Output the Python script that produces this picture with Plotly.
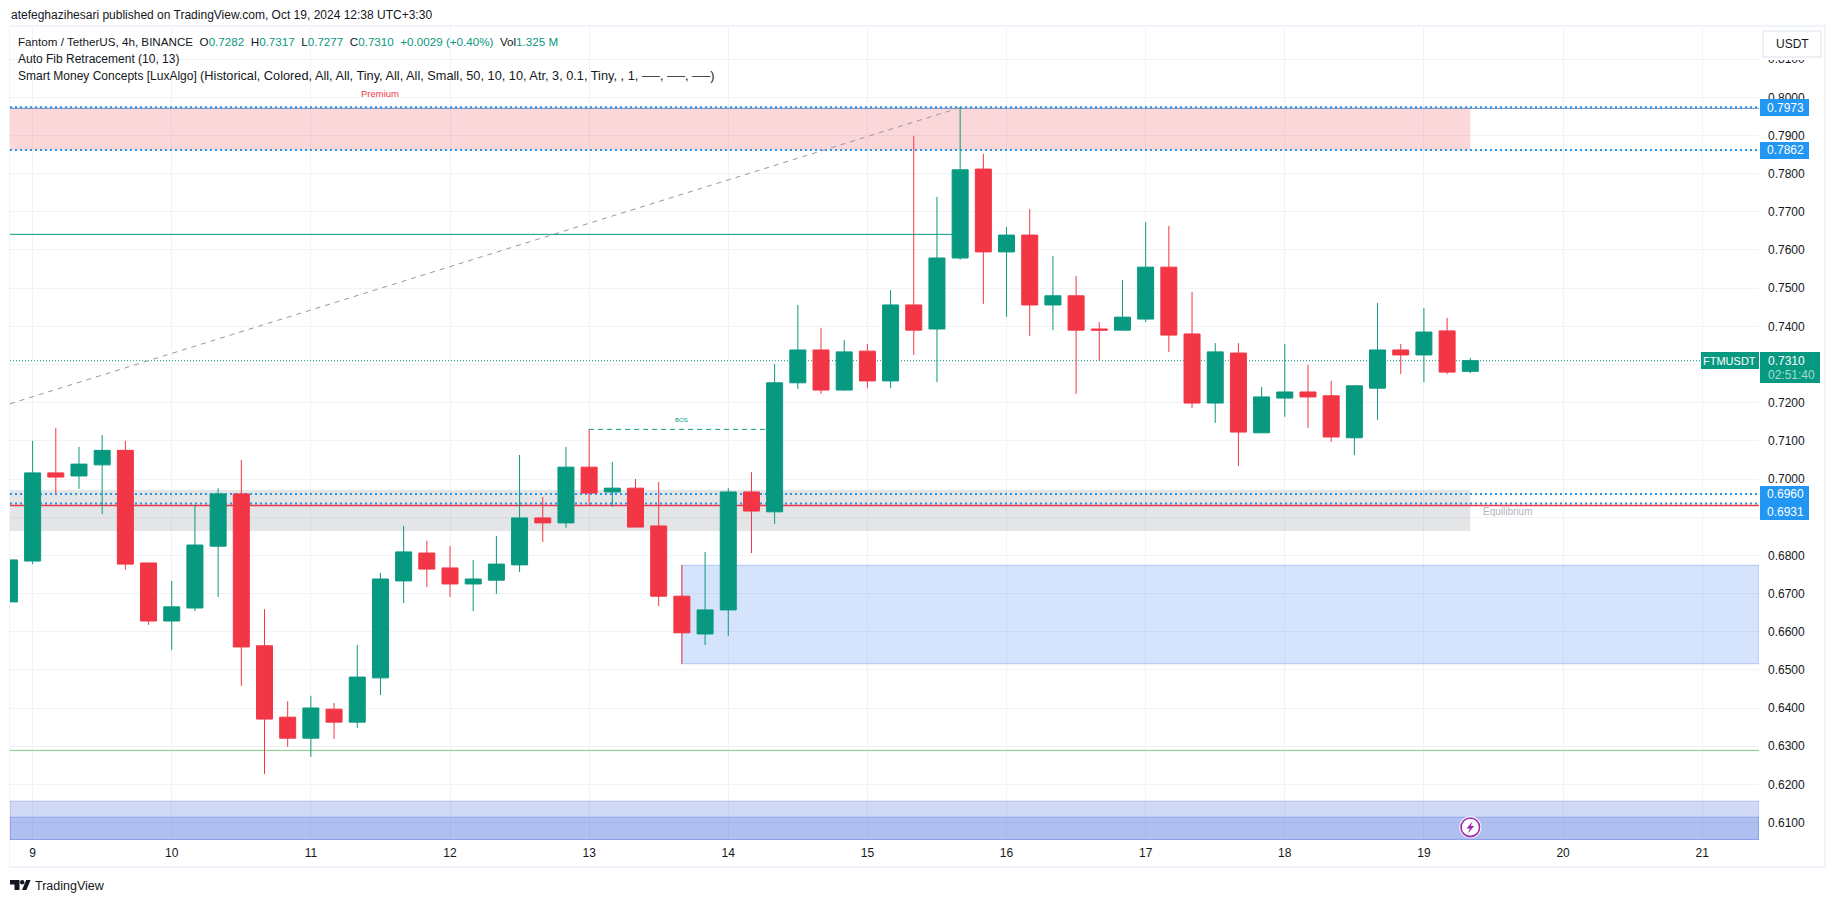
import plotly.graph_objects as go

W, H = 1835, 903
PLOT_L, PLOT_R, PLOT_T, PLOT_B = 10, 1759, 27, 840
FONT = "Liberation Sans"
INK = "#131722"
GREEN = "#089981"
RED = "#F23645"
BLUE = "#2196F3"

# ---------- candles (4h bars, index 0 is the first bar of the 9th) ----------
idx = list(range(-1, 63))
opens = [.6678, .6785, .7016, .7008, .7037, .7075, .6780, .6628, .6662, .6824,
         .6961, .6563, .6376, .6321, .6397, .6363, .6479, .6733, .6806, .6767,
         .6725, .6735, .6775, .6898, .6885, .7031, .6966, .6976, .6877, .6693,
         .6594, .6657, .6966, .6914, .7252, .7338, .7233, .7335, .7257, .7456,
         .7393, .7579, .7812, .7595, .7639, .7456, .7480, .7393, .7390, .7419,
         .7555, .7380, .7199, .7330, .7121, .7212, .7228, .7218, .7108, .7238,
         .7338, .7325, .7388, .7282]
closes = [.6788, .7016, .7005, .7039, .7075, .6777, .6628, .6665, .6827, .6961,
          .6560, .6371, .6321, .6400, .6363, .6481, .6738, .6809, .6764, .6725,
          .6738, .6777, .6898, .6885, .7031, .6963, .6976, .6874, .6693, .6597,
          .6657, .6966, .6916, .7252, .7338, .7233, .7333, .7257, .7456, .7390,
          .7579, .7810, .7595, .7639, .7456, .7480, .7390, .7390, .7424, .7555,
          .7377, .7199, .7333, .7123, .7215, .7228, .7215, .7110, .7244, .7338,
          .7325, .7385, .7280, .7310]
highs = [.6788, .7100, .7134, .7084, .7115, .7100, .6780, .6733, .6932, .6976,
         .7050, .6659, .6418, .6432, .6413, .6565, .6754, .6877, .6838, .6824,
         .6788, .6851, .7063, .6953, .7084, .7131, .7045, .7000, .6992, .6775,
         .6809, .6976, .7018, .7301, .7456, .7396, .7364, .7354, .7495, .7899,
         .7739, .7974, .7852, .7660, .7707, .7584, .7532, .7411, .7521, .7673,
         .7663, .7490, .7356, .7356, .7241, .7354, .7299, .7257, .7246, .7461,
         .7354, .7448, .7422, .7317]
lows = [.6678, .6777, .6961, .6974, .6908, .6762, .6618, .6552, .6654, .6691,
        .6458, .6227, .6298, .6272, .6319, .6348, .6434, .6675, .6717, .6691,
        .6654, .6699, .6756, .6835, .6872, .6932, .6927, .6874, .6667, .6515,
        .6565, .6589, .6806, .6882, .7236, .7223, .7231, .7238, .7238, .7325,
        .7254, .7574, .7459, .7425, .7375, .7390, .7223, .7310, .7390, .7411,
        .7333, .7186, .7147, .7034, .7121, .7163, .7134, .7097, .7063, .7155,
        .7275, .7254, .7275, .7277]

# ---------- axes ----------
day_bars = [0, 6, 12, 18, 24, 30, 36, 42, 48, 54, 60, 66, 72]
day_labels = ["9", "10", "11", "12", "13", "14", "15", "16", "17", "18", "19", "20", "21"]
price_ticks = [.61, .62, .63, .64, .65, .66, .67, .68, .69, .70, .71,
               .72, .73, .74, .75, .76, .77, .78, .79, .80, .81]
price_labels = ["0.6100", "0.6200", "0.6300", "0.6400", "0.6500", "0.6600", "0.6700", "0.6800",
                "", "0.7000", "0.7100", "0.7200", "", "0.7400", "0.7500", "0.7600", "0.7700",
                "0.7800", "0.7900", "0.8000", "0.8100"]
X_RANGE = [-0.975, 74.45]
Y_RANGE = [.60542, .81842]

# ---------- zones and levels (bar index, price) ----------
premium_zone = (-0.975, 62, .7862, .7973)
equilibrium_zone = (-0.975, 62, .6864, .6971)
demand_zone = (28, 74.45, .6516, .6774)
lower_zone_a = (-0.975, 74.45, .60542, .6156)
lower_zone_b = (-0.975, 74.45, .60542, .6114)
dotted_levels = [.7974, .7862, .6961, .6936]
top_solid_level = .7971
swing_high_level = (-0.975, 40, .7641)
swing_low_level = .6289
equilibrium_level = .69305
last_price = .7310
fib_line = (-0.975, .7197, 40, .7973)
bos_line = (24, 32, .7130)
bos_label = (28.0, .7155)


def px(x):
    return x / W


def py(y):
    return 1 - y / H


fig = go.Figure(go.Candlestick(
    x=idx, open=opens, high=highs, low=lows, close=closes,
    increasing=dict(line=dict(color=GREEN, width=1), fillcolor=GREEN),
    decreasing=dict(line=dict(color=RED, width=1), fillcolor=RED),
    whiskerwidth=0, hoverinfo="skip", showlegend=False,
))

shapes = []
LOW = "between"


def zone(z, fill, border):
    shapes.append(dict(type="rect", xref="x", yref="y", x0=z[0], x1=z[1], y0=z[2], y1=z[3],
                       fillcolor=fill, line=dict(color=border, width=1), layer=LOW))


def hline(x0, x1, y, color, width=1, dash="solid"):
    shapes.append(dict(type="line", xref="x", yref="y", x0=x0, x1=x1, y0=y, y1=y,
                       line=dict(color=color, width=width, dash=dash), layer=LOW))


NONE = "rgba(0,0,0,0)"
zone(premium_zone, "rgba(242,54,69,0.2)", NONE)
zone(equilibrium_zone, "rgba(120,123,134,0.2)", NONE)
zone(demand_zone, "rgba(45,115,240,0.2)", "rgba(70,110,220,0.3)")
zone(lower_zone_a, "rgba(59,97,213,0.24)", "rgba(60,90,215,0.3)")
zone(lower_zone_b, "rgba(59,105,225,0.22)", "rgba(60,90,215,0.3)")

hline(X_RANGE[0], X_RANGE[1], top_solid_level, "#7489c4", 1)
hline(swing_high_level[0], swing_high_level[1], swing_high_level[2], GREEN, 1)
hline(X_RANGE[0], X_RANGE[1], swing_low_level, "#7BCF85", 1)
hline(X_RANGE[0], X_RANGE[1], last_price, GREEN, 1, "1px,2px")
for lv in dotted_levels:
    hline(X_RANGE[0], X_RANGE[1], lv, BLUE, 2, "2px,3px")
hline(X_RANGE[0], X_RANGE[1], equilibrium_level, RED, 1.3)
shapes.append(dict(type="line", xref="x", yref="y", x0=fib_line[0], y0=fib_line[1],
                   x1=fib_line[2], y1=fib_line[3],
                   line=dict(color="#9598A1", width=1, dash="5px,5px"), layer=LOW))
hline(bos_line[0], bos_line[1], bos_line[2], GREEN, 1, "5px,4px")


def prect(x0, y0, x1, y1, fill, line=NONE, width=0):
    shapes.append(dict(type="rect", xref="paper", yref="paper", x0=px(x0), x1=px(x1),
                       y0=py(y0), y1=py(y1), fillcolor=fill,
                       line=dict(color=line, width=width), layer="above"))


# mask behind the USDT button (clips the top tick label as in the reference)
prect(1760, 27, 1824, 60, "#FFFFFF")

# outer frame
FRAME = "#F0F3FA"
prect(9, 25, 1826, 27, FRAME)
prect(9, 866, 1826, 868, FRAME)
prect(9, 25, 10, 868, FRAME)
prect(1824, 25, 1826, 868, FRAME)

# price and symbol labels
prect(1760, 99, 1809, 116, BLUE)
prect(1760, 142, 1809, 159, BLUE)
prect(1760, 486, 1809, 520, BLUE)
prect(1701, 352, 1759, 369, GREEN)
prect(1760, 352, 1820, 383, GREEN)

# USDT button
prect(1763, 31, 1821, 57, "#FFFFFF", "#E8EBF2", 1.5)


def pth(points, fill):
    d = "M" + " L".join(f"{px(a):.5f},{py(b):.5f}" for a, b in points) + " Z"
    shapes.append(dict(type="path", xref="paper", yref="paper", path=d,
                       fillcolor=fill, line=dict(color=fill, width=0), layer="above"))


# TradingView mark
pth([(10, 880), (19.5, 880), (19.5, 890), (14.5, 890), (14.5, 884.5), (10, 884.5)], INK)
shapes.append(dict(type="circle", xref="paper", yref="paper", x0=px(20), x1=px(24.4),
                   y0=py(880), y1=py(884.4), fillcolor=INK, line=dict(width=0), layer="above"))
pth([(26.2, 880), (30.6, 880), (26.4, 890), (22, 890)], INK)

# lightning badge
shapes.append(dict(type="circle", xref="paper", yref="paper", x0=px(1459.3), x1=px(1481.3),
                   y0=py(816.3), y1=py(838.3), fillcolor="#FFFFFF", line=dict(width=0), layer="above"))
shapes.append(dict(type="circle", xref="paper", yref="paper", x0=px(1461), x1=px(1479.6),
                   y0=py(818), y1=py(836.6), fillcolor="#FFFFFF",
                   line=dict(color="#9C27B0", width=1.6), layer="above"))
pth([(1472.5, 821.5), (1466.5, 828.5), (1469.8, 828.5), (1468, 833.2), (1474.2, 826), (1470.8, 826)], "#9C27B0")

ann = []


def label(x, y, text, size=12, color=INK, anchor="left"):
    ann.append(dict(xref="paper", yref="paper", x=px(x), y=py(y), text=text, showarrow=False,
                    xanchor=anchor, yanchor="middle", align="left",
                    font=dict(family=FONT, size=size, color=color)))


def g(s):
    return f'<span style="color:{GREEN}">{s}</span>'


label(9, 15, "atefeghazihesari published on TradingView.com, Oct 19, 2024 12:38 UTC+3:30", 12)
label(16, 42, "Fantom / TetherUS, 4h, BINANCE  O" + g("0.7282") + "  H" + g("0.7317") + "  L" + g("0.7277")
      + "  C" + g("0.7310") + "  " + g("+0.0029 (+0.40%)") + "  Vol" + g("1.325 M"), 11.65)
label(16, 59, "Auto Fib Retracement (10, 13)", 12)
label(16, 76, 'Smart Money Concepts [LuxAlgo] <span style="font-size:12.75px">(Historical, Colored, All, All, '
              'Tiny, All, All, Small, 50, 10, 10, Atr, 3, 0.1, Tiny, , 1, ──, ──, ──)</span>', 12)
label(380, 93, "Premium", 9.5, RED, "center")
label(1507, 511, "Equilibrium", 10, "#B2B5BE", "center")
label(1792, 44, "USDT", 12, INK, "center")
label(1785, 107.5, "0.7973", 12, "#FFFFFF", "center")
label(1785, 150.5, "0.7862", 12, "#FFFFFF", "center")
label(1785, 494, "0.6960", 12, "#FFFFFF", "center")
label(1785, 511.5, "0.6931", 12, "#FFFFFF", "center")
label(1729, 360.5, "FTMUSDT", 11, "#FFFFFF", "center")
label(1786, 360.5, "0.7310", 12, "#FFFFFF", "center")
label(1791, 375, "02:51:40", 12, "#A3DCCF", "center")
label(33, 885.5, "TradingView", 12.5)
ann.append(dict(xref="x", yref="y", x=bos_label[0], y=bos_label[1], text="BOS", showarrow=False,
                yanchor="middle", font=dict(family=FONT, size=6, color=GREEN)))

GRID = "#F2F3F6"
fig.update_layout(
    width=W, height=H, autosize=False,
    margin=dict(l=0, r=0, t=0, b=0, pad=0),
    paper_bgcolor="#FFFFFF", plot_bgcolor="#FFFFFF",
    boxgap=0.31, boxgroupgap=0, showlegend=False, hovermode=False,
    shapes=shapes, annotations=ann,
    font=dict(family=FONT, size=12, color=INK),
    xaxis=dict(domain=[px(PLOT_L), px(PLOT_R)], range=X_RANGE, tickmode="array",
               tickvals=day_bars, ticktext=day_labels, showgrid=True, gridcolor=GRID, gridwidth=1,
               zeroline=False, showline=False, ticks="", rangeslider=dict(visible=False),
               tickfont=dict(family=FONT, size=12, color=INK), ticklabelstandoff=4),
    yaxis=dict(domain=[py(PLOT_B), py(PLOT_T)], range=Y_RANGE, side="right", tickmode="array",
               tickvals=price_ticks, ticktext=price_labels,
               showgrid=True, gridcolor=GRID, gridwidth=1, zeroline=False, showline=False,
               ticks="", tickfont=dict(family=FONT, size=12, color=INK), ticklabelstandoff=8),
)

fig.write_html("out.html", config=dict(displayModeBar=False),
               post_script="document.body.style.margin='0';document.body.style.overflow='hidden';")
